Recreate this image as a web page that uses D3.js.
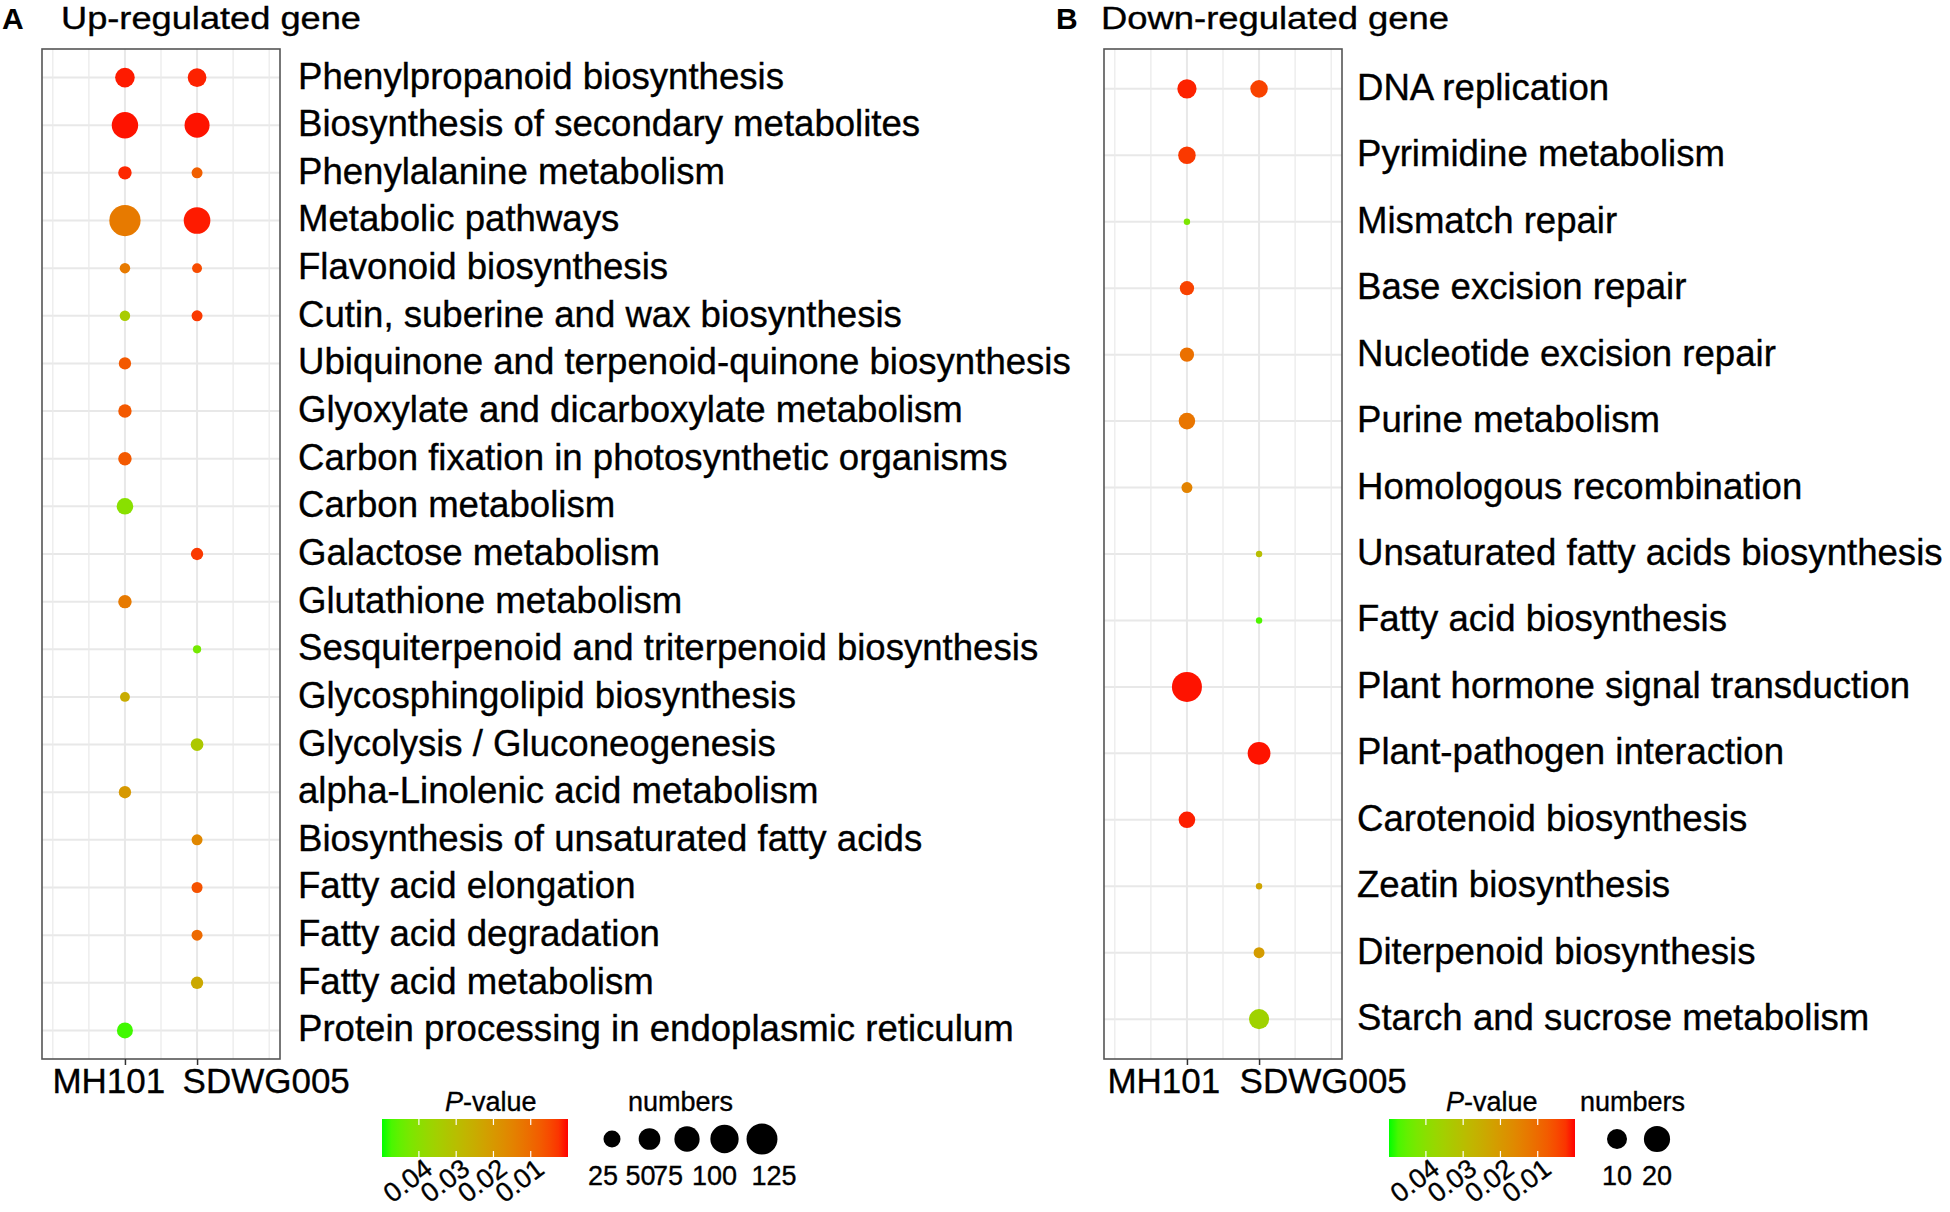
<!DOCTYPE html>
<html>
<head>
<meta charset="utf-8">
<script src="https://cdn.jsdelivr.net/npm/d3@7"></script>
<style>
  html, body { margin: 0; padding: 0; background: #ffffff; }
  svg { display: block; }
  text { font-family: "Liberation Sans", Arial, Helvetica, sans-serif; fill: #000; }
  .heavy { stroke: #000; stroke-width: 0.35px; }
</style>
</head>
<body>
<script>
// ---------------- DATA ----------------
const samples = ["MH101", "SDWG005"];

const upPathways = [
  "Phenylpropanoid biosynthesis",
  "Biosynthesis of secondary metabolites",
  "Phenylalanine metabolism",
  "Metabolic pathways",
  "Flavonoid biosynthesis",
  "Cutin, suberine and wax biosynthesis",
  "Ubiquinone and terpenoid-quinone biosynthesis",
  "Glyoxylate and dicarboxylate metabolism",
  "Carbon fixation in photosynthetic organisms",
  "Carbon metabolism",
  "Galactose metabolism",
  "Glutathione metabolism",
  "Sesquiterpenoid and triterpenoid biosynthesis",
  "Glycosphingolipid biosynthesis",
  "Glycolysis / Gluconeogenesis",
  "alpha-Linolenic acid metabolism",
  "Biosynthesis of unsaturated fatty acids",
  "Fatty acid elongation",
  "Fatty acid degradation",
  "Fatty acid metabolism",
  "Protein processing in endoplasmic reticulum"
];
const upMH101Numbers  = [38, 84, 12, 128, 5, 5, 9, 12, 12, 23, null, 12, null, 4, null, 9, null, null, null, null, 21];
const upMH101PValues  = [0.0008, 0.0005, 0.0015, 0.013, 0.013, 0.034, 0.007, 0.007, 0.007, 0.040, null, 0.013, null, 0.025, null, 0.020, null, null, null, null, 0.048];
const upSDWG005Numbers = [33, 73, 6, 86, 4, 6, null, null, null, null, 9, null, 2, null, 10, null, 6, 6, 6, 9, null];
const upSDWG005PValues = [0.0012, 0.0005, 0.008, 0.0008, 0.005, 0.003, null, null, null, null, 0.003, null, 0.043, null, 0.033, null, 0.016, 0.006, 0.010, 0.024, null];

const downPathways = [
  "DNA replication",
  "Pyrimidine metabolism",
  "Mismatch repair",
  "Base excision repair",
  "Nucleotide excision repair",
  "Purine metabolism",
  "Homologous recombination",
  "Unsaturated fatty acids biosynthesis",
  "Fatty acid biosynthesis",
  "Plant hormone signal transduction",
  "Plant-pathogen interaction",
  "Carotenoid biosynthesis",
  "Zeatin biosynthesis",
  "Diterpenoid biosynthesis",
  "Starch and sucrose metabolism"
];
const downMH101Numbers  = [9, 7, 1, 4, 4, 6, 2, null, null, 28, null, 6, null, null, null];
const downMH101PValues  = [0.0012, 0.003, 0.042, 0.004, 0.011, 0.012, 0.015, null, null, 0.0005, null, 0.001, null, null, null];
const downSDWG005Numbers = [7, null, null, null, null, null, null, 1, 1, null, 14, null, 1, 2, 10];
const downSDWG005PValues = [0.004, null, null, null, null, null, null, 0.030, 0.047, null, 0.0005, null, 0.023, 0.021, 0.036];

const pValueTicks = [0.04, 0.03, 0.02, 0.01];
const upSizeBreaks = [25, 50, 75, 100, 125];
const downSizeBreaks = [10, 20];

// ---------------- SETUP ----------------
const W = 1950, H = 1212;
const FONT = '"Liberation Sans", Arial, Helvetica, sans-serif';
const svg = d3.select("body").append("svg").attr("width", W).attr("height", H);
svg.append("rect").attr("width", W).attr("height", H).attr("fill", "#fff");
const defs = svg.append("defs");

const pDomain = [0.0499, 0.0];
const colorScale = d3.scaleLinear().domain(pDomain).range(["#00FF00", "#FF0000"])
  .interpolate(d3.interpolateLab).clamp(true);

function buildRecords(pathways, n1, p1, n2, p2) {
  const out = [];
  pathways.forEach((name, i) => {
    if (n1[i] != null) out.push({ pathway: name, sample: 0, n: n1[i], p: p1[i] });
    if (n2[i] != null) out.push({ pathway: name, sample: 1, n: n2[i], p: p2[i] });
  });
  return out;
}

function drawPanel(cfg) {
  const g = svg.append("g");
  const x = d3.scaleLinear().domain([-0.15, 3.15]).range([cfg.x0, cfg.x1]);
  const y = d3.scalePoint().domain(cfg.pathways).range([cfg.y0, cfg.y1]).padding(0.6);
  const rScale = d3.scaleSqrt().domain([0, cfg.nMax - cfg.nMin]).range(cfg.rRange);
  const radius = n => rScale(n - cfg.nMin);

  // panel letter + title
  g.append("text").attr("x", cfg.letterX).attr("y", 29)
    .attr("font-size", 30).attr("font-weight", "bold").text(cfg.letter);
  g.append("text").attr("class", "heavy").attr("x", cfg.titleX).attr("y", 29)
    .attr("font-size", 31).attr("textLength", cfg.titleLen).attr("lengthAdjust", "spacingAndGlyphs")
    .text(cfg.title);

  // grid
  const grid = g.append("g");
  grid.selectAll("line.h").data(cfg.pathways).join("line")
    .attr("x1", cfg.x0).attr("x2", cfg.x1)
    .attr("y1", d => y(d)).attr("y2", d => y(d))
    .attr("stroke", "#e8e8e8").attr("stroke-width", 2);
  grid.selectAll("line.vmin").data([0, 0.5, 1.5, 2.5, 3]).join("line")
    .attr("x1", d => x(d)).attr("x2", d => x(d))
    .attr("y1", cfg.y0).attr("y2", cfg.y1)
    .attr("stroke", "#ebebeb").attr("stroke-width", 1.3);
  grid.selectAll("line.vmaj").data([1, 2]).join("line")
    .attr("x1", d => x(d)).attr("x2", d => x(d))
    .attr("y1", cfg.y0).attr("y2", cfg.y1)
    .attr("stroke", "#e8e8e8").attr("stroke-width", 2);

  // points
  g.append("g").selectAll("circle").data(cfg.records).join("circle")
    .attr("cx", d => x(d.sample + 1))
    .attr("cy", d => y(d.pathway))
    .attr("r", d => radius(d.n))
    .attr("fill", d => colorScale(d.p));

  // border
  g.append("rect").attr("x", cfg.x0).attr("y", cfg.y0)
    .attr("width", cfg.x1 - cfg.x0).attr("height", cfg.y1 - cfg.y0)
    .attr("fill", "none").attr("stroke", "#555").attr("stroke-width", 1.6);

  // x axis
  const ax = g.append("g").attr("transform", `translate(0,${cfg.y1})`)
    .call(d3.axisBottom(x).tickValues([1, 2]).tickSize(6).tickFormat(d => samples[d - 1]));
  ax.select(".domain").remove();
  ax.selectAll(".tick line").attr("stroke", "#333").attr("stroke-width", 1.5);
  ax.selectAll(".tick text")
    .attr("class", "heavy")
    .attr("font-family", FONT).attr("font-size", 35).attr("fill", "#000")
    .attr("text-anchor", "start")
    .attr("y", 34).attr("dy", 0)
    .attr("dx", (d, i) => cfg.labelDx[i]);

  // y labels (right side)
  g.append("g").selectAll("text").data(cfg.pathways).join("text")
    .attr("class", "heavy")
    .attr("x", cfg.labelX).attr("y", d => y(d)).attr("dy", "0.3em")
    .attr("font-size", 36.6).text(d => d);

  // ---- legend: colour bar ----
  const lg = g.append("g");
  const bx = d3.scaleLinear().domain(pDomain).range([cfg.barX, cfg.barX + 186]);
  const gradId = "grad" + cfg.letter;
  const grad = defs.append("linearGradient").attr("id", gradId)
    .attr("x1", "0%").attr("x2", "100%").attr("y1", "0%").attr("y2", "0%");
  d3.range(0, 1.0001, 0.05).forEach(t => {
    const pv = pDomain[0] + (pDomain[1] - pDomain[0]) * t;
    grad.append("stop").attr("offset", (t * 100) + "%").attr("stop-color", colorScale(pv));
  });
  const barY = 1119, barH = 38;
  lg.append("rect").attr("x", cfg.barX).attr("y", barY).attr("width", 186).attr("height", barH)
    .attr("fill", `url(#${gradId})`);
  lg.selectAll("line.tt").data(pValueTicks).join("line")
    .attr("x1", d => bx(d)).attr("x2", d => bx(d)).attr("y1", barY).attr("y2", barY + 6)
    .attr("stroke", "#fff").attr("stroke-width", 1.2);
  lg.selectAll("line.tb").data(pValueTicks).join("line")
    .attr("x1", d => bx(d)).attr("x2", d => bx(d)).attr("y1", barY + barH - 6).attr("y2", barY + barH)
    .attr("stroke", "#fff").attr("stroke-width", 1.2);
  lg.selectAll("text.pl").data(pValueTicks).join("text")
    .attr("class", "heavy")
    .attr("transform", d => `translate(${bx(d) + 4},${barY + barH}) rotate(-37)`)
    .attr("text-anchor", "end").attr("dy", "0.7em")
    .attr("font-size", 27).text(d => d.toFixed(2));
  const pt = lg.append("text").attr("class", "heavy").attr("x", cfg.barX + cfg.pTitleDx).attr("y", 1111).attr("font-size", 27);
  pt.append("tspan").attr("font-style", "italic").text("P");
  pt.append("tspan").text("-value");

  // ---- legend: size ----
  lg.append("text").attr("class", "heavy").attr("x", cfg.numTitleX).attr("y", 1111).attr("font-size", 27).text("numbers");
  const keyX = i => cfg.keyX0 + i * cfg.keyStep;
  lg.selectAll("circle.k").data(cfg.sizeBreaks).join("circle")
    .attr("cx", (d, i) => keyX(i)).attr("cy", 1139).attr("r", d => radius(d)).attr("fill", "#000");
  lg.selectAll("text.k").data(cfg.sizeBreaks).join("text")
    .attr("class", "heavy")
    .attr("x", (d, i) => keyX(i) + cfg.keyLabelDx[i]).attr("y", 1185).attr("text-anchor", "middle")
    .attr("font-size", 27).text(d => d);
}

drawPanel({
  letter: "A", letterX: 2, title: "Up-regulated gene", titleX: 61, titleLen: 300,
  x0: 42, x1: 280, y0: 49, y1: 1059,
  pathways: upPathways,
  records: buildRecords(upPathways, upMH101Numbers, upMH101PValues, upSDWG005Numbers, upSDWG005PValues),
  nMin: 1, nMax: 128, rRange: [3.0, 3.0 + 1.12 * Math.sqrt(127)],
  labelX: 298, labelDx: [-73, -15],
  barX: 382, pTitleDx: 63,
  numTitleX: 628, keyX0: 612, keyStep: 37.5, keyLabelDx: [-9, -9, -19, -10, 12],
  sizeBreaks: upSizeBreaks
});

drawPanel({
  letter: "B", letterX: 1056, title: "Down-regulated gene", titleX: 1101, titleLen: 348,
  x0: 1104, x1: 1342, y0: 49, y1: 1059,
  pathways: downPathways,
  records: buildRecords(downPathways, downMH101Numbers, downMH101PValues, downSDWG005Numbers, downSDWG005PValues),
  nMin: 1, nMax: 28, rRange: [3.2, 3.2 + 2.27 * Math.sqrt(27)],
  labelX: 1357, labelDx: [-80, -20],
  barX: 1389, pTitleDx: 57,
  numTitleX: 1580, keyX0: 1617, keyStep: 40, keyLabelDx: [0, 0],
  sizeBreaks: downSizeBreaks
});
</script>
</body>
</html>
